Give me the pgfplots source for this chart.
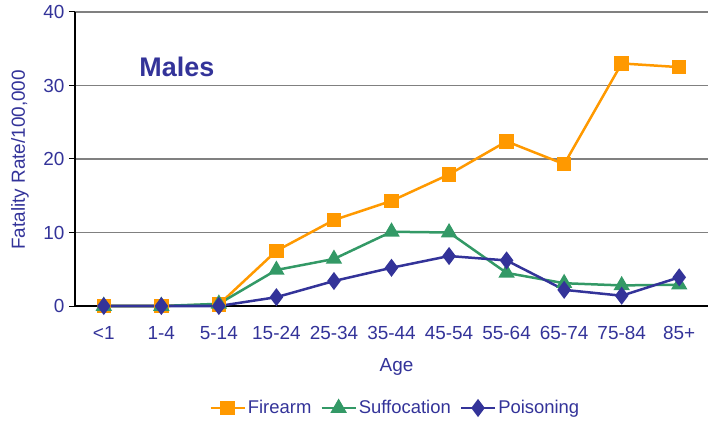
\documentclass[border=0pt]{standalone}
\usepackage{pgfplots}
\pgfplotsset{compat=1.18}
\usepackage{fontspec}
\setmainfont{Liberation Sans}
\definecolor{fire}{HTML}{FF9900}
\definecolor{suff}{HTML}{339966}
\definecolor{pois}{HTML}{333399}
\definecolor{txt}{HTML}{333399}
\begin{document}
\begin{tikzpicture}
\begin{axis}[
  at={(75bp,115bp)}, anchor=south west,
  width=633bp, height=294bp, scale only axis,
  xmin=-0.5, xmax=10.5, ymin=0, ymax=40,
  axis lines=left,
  axis line style={-, black, line width=1.2bp},
  xtick={0,...,10},
  xticklabels={<1,1-4,5-14,15-24,25-34,35-44,45-54,55-64,65-74,75-84,85+},
  x tick style={draw=none},
  extra x ticks={-0.5,0.5,1.5,2.5,3.5,4.5,5.5,6.5,7.5,8.5,9.5},
  extra x tick labels={},
  extra x tick style={draw=black, line width=1bp, major tick length=6bp, tick align=outside, grid=none},
  ytick={0,10,20,30,40},
  y tick style={black, line width=1bp},
  major tick length=6bp, tick align=outside,
  ymajorgrids, grid style={gray, line width=1.2bp},
  /pgf/number format/assume math mode=true,
  every tick label/.append style={text=txt, font=\fontsize{19}{22}\selectfont},
  xticklabel style={yshift=-11bp},
  yticklabel style={xshift=-1bp},
  xlabel={Age},
  xlabel style={at={(axis description cs:0.508,-0.207)}, anchor=center, text=txt, font=\fontsize{19}{22}\selectfont},
  ylabel={Fatality Rate/100,000},
  ylabel style={at={(axis description cs:-0.087,0.497)}, anchor=center, text=txt, font=\fontsize{19}{22}\selectfont},
  legend style={at={(axis description cs:0.506,-0.347)}, anchor=center, draw=none, fill=none,
    legend columns=-1, text=txt, font=\fontsize{18.5}{22}\selectfont,
    /tikz/every even column/.append style={column sep=7bp},
    /tikz/every odd column/.append style={column sep=0bp}},
  legend image code/.code={\draw[mark repeat=2,mark phase=2] plot coordinates {(0cm,0cm) (0.6cm,0cm) (1.2cm,0cm)};},
  clip=false,
]
\addplot[fire, line width=2.5bp, mark=square*, mark size=6bp, mark options={solid, fill=fire}] coordinates {
(0,0) (1,0) (2,0.2) (3,7.5) (4,11.7) (5,14.3) (6,17.9) (7,22.4) (8,19.3) (9,33.0) (10,32.5)};
\addlegendentry{Firearm}
\addplot[suff, line width=2.5bp, mark=triangle*, mark size=7bp, mark options={solid, fill=suff}] coordinates {
(0,0) (1,0) (2,0.3) (3,4.9) (4,6.4) (5,10.1) (6,10.0) (7,4.5) (8,3.1) (9,2.8) (10,2.9)};
\addlegendentry{Suffocation}
\addplot[pois, line width=2.5bp, mark=diamond*, mark size=7bp, mark options={solid, fill=pois}] coordinates {
(0,0) (1,0) (2,0) (3,1.2) (4,3.4) (5,5.2) (6,6.8) (7,6.2) (8,2.2) (9,1.4) (10,3.9)};
\addlegendentry{Poisoning}
\node[font=\fontsize{27}{30}\selectfont\bfseries, text=txt] at (axis cs:1.27,32.6) {Males};
\end{axis}
\pgfresetboundingbox
\path[use as bounding box] (0,0) rectangle (709bp,421bp);
\end{tikzpicture}
\end{document}
